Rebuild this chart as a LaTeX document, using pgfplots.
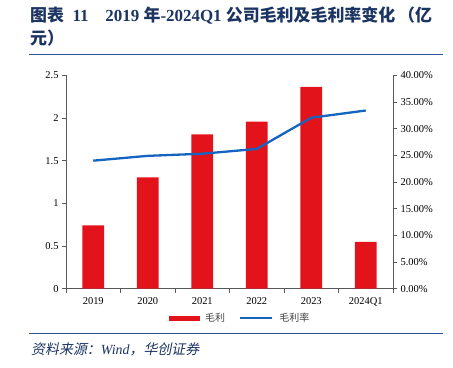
\documentclass[border=0pt]{standalone}
\usepackage{pgfplots}
\pgfplotsset{compat=1.18}
\usepackage{fontspec}
\setmainfont{Liberation Serif}
\newfontfamily\cjk{Noto Sans CJK SC}
\newfontfamily\cjkit[FakeSlant=0.2]{Noto Sans CJK SC}
\definecolor{barred}{HTML}{E3131B}
\definecolor{lineblue}{HTML}{1565C0}
\definecolor{titlenavy}{HTML}{1C3462}
\definecolor{rulecol}{HTML}{2F5597}
\definecolor{axcol}{HTML}{595959}
\begin{document}
\begin{tikzpicture}
\useasboundingbox (0,0) rectangle (453bp,368bp);
% title
\node[anchor=base west, inner sep=0, text=titlenavy, font=\fontsize{17}{18}\selectfont\bfseries] at (30bp,346bp)
  {{\cjk 图表}\ \ 11\quad 2019 {\cjk 年}-2024Q1 {\cjk 公司毛利及毛利率变化}\,{\cjk （亿}};
\node[anchor=base west, inner sep=0, text=titlenavy, font=\fontsize{17}{18}\selectfont\bfseries] at (30bp,323bp)
  {{\cjk 元）}};
\draw[rulecol, line width=1.5bp] (29bp,313.7bp) -- (443bp,313.7bp);
\draw[rulecol, line width=1.5bp] (29bp,34.7bp) -- (443bp,34.7bp);
\node[anchor=base west, inner sep=0, text=titlenavy, font=\fontsize{14}{15}\selectfont] at (31bp,14bp)
  {{\cjkit 资料来源：}\textit{Wind}{\cjkit ，华创证券}};

\begin{axis}[
  at={(66bp,79.3bp)}, anchor=south west, scale only axis,
  width=327bp, height=213.4bp,
  xmin=-0.5, xmax=5.5, ymin=0, ymax=2.5,
  axis x line*=bottom, axis y line*=left,
  axis line style={-, axcol, line width=0.8bp},
  xtick={0,...,5},
  xticklabels={2019,2020,2021,2022,2023,2024Q1},
  major x tick style={draw=none},
  minor xtick={-0.5,0.5,1.5,2.5,3.5,4.5,5.5},
  minor x tick style={axcol, line width=0.8bp},
  ytick={0,0.5,1,1.5,2,2.5},
  yticklabels={0,0.5,1,1.5,2,2.5},
  y tick style={axcol, line width=0.8bp},
  tick align=outside,
  major tick length=4bp, minor tick length=4bp,
  ticklabel style={font=\fontsize{10.5}{12}\selectfont, text=black},
  /pgf/number format/assume math mode=true,
  xticklabel style={yshift=-1bp},
]
\addplot[ybar, bar width=21.7bp, bar shift=0pt, fill=barred, draw=none]
  coordinates {(0,0.742)(1,1.304)(2,1.808)(3,1.956)(4,2.365)(5,0.550)};
\end{axis}

\begin{axis}[
  at={(66bp,79.3bp)}, anchor=south west, scale only axis,
  width=327bp, height=213.4bp,
  xmin=-0.5, xmax=5.5, ymin=0, ymax=40,
  axis x line=none, axis y line*=right,
  axis line style={-, axcol, line width=0.8bp},
  ytick={0,5,...,40},
  yticklabels={0.00\%,5.00\%,10.00\%,15.00\%,20.00\%,25.00\%,30.00\%,35.00\%,40.00\%},
  y tick style={axcol, line width=0.8bp},
  tick align=outside, major tick length=4bp,
  ticklabel style={font=\fontsize{10.5}{12}\selectfont, text=black},
  /pgf/number format/assume math mode=true,
  legend style={at={(0.532,-0.137)}, anchor=center, draw=none, fill=none,
    legend columns=2, font=\cjk\fontsize{10}{12}\selectfont, text=black!75,
    /tikz/every odd column/.append style={column sep=4bp},
    /tikz/every even column/.append style={column sep=12bp}},
]
\addlegendimage{legend image code/.code={\fill[barred] (0bp,-2.2bp) rectangle (30bp,2.2bp);}}
\addlegendentry{毛利}
\addplot[lineblue, line width=2.3bp, line join=round,
  legend image code/.code={\draw[lineblue, line width=2.3bp] (0bp,0bp) -- (32bp,0bp);}]
  coordinates {(0,24.0)(1,24.9)(2,25.3)(3,26.2)(4,32.05)(5,33.4)};
\addlegendentry{毛利率}
\end{axis}
\end{tikzpicture}
\end{document}
